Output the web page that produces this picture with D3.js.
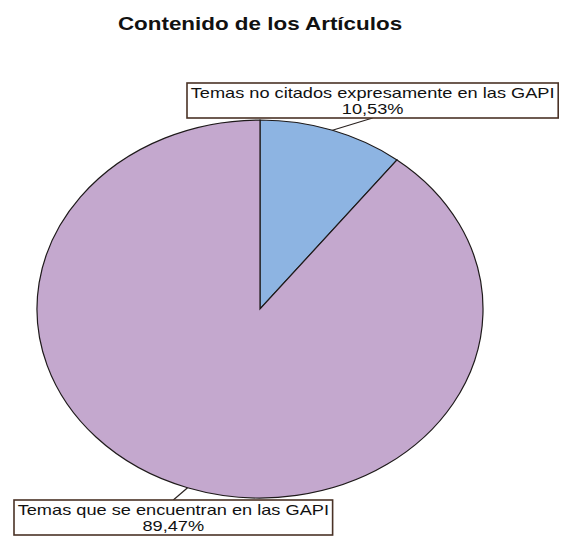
<!DOCTYPE html>
<html>
<head>
<meta charset="utf-8">
<script src="https://cdn.jsdelivr.net/npm/d3@7"></script>
<style>
  body { margin: 0; background: #ffffff; }
  svg { display: block; }
</style>
</head>
<body>
<svg id="chart" width="564" height="541"></svg>
<script>
// Chart data
const chartTitle = "Contenido de los Artículos";
const categories = ["Temas no citados expresamente en las GAPI", "Temas que se encuentran en las GAPI"];
const values = [10.53, 89.47];
const valueLabels = ["10,53%", "89,47%"];
const colors = ["#8DB4E2", "#C4A8CE"];

// Layout: the pie is drawn as a circle and stretched horizontally into an ellipse
const W = 564, H = 541;
const sx = 1.18;
const cx = 260, cy = 309, r = 189;
const font = "'Liberation Sans', Arial, sans-serif";

const svg = d3.select("#chart");

// Title
svg.append("g")
  .attr("transform", `translate(${cx},30) scale(${sx},1)`)
  .append("text")
  .attr("text-anchor", "middle")
  .attr("font-family", font)
  .attr("font-weight", "bold")
  .attr("font-size", 19)
  .attr("fill", "#111")
  .text(chartTitle);

// Pie
const pie = d3.pie().sort(null).value(d => d)(values);
const arc = d3.arc().innerRadius(0).outerRadius(r);

const pieG = svg.append("g")
  .attr("transform", `translate(${cx},${cy}) scale(${sx},1)`);

pieG.selectAll("path")
  .data(pie)
  .join("path")
  .attr("d", arc)
  .attr("fill", (d, i) => colors[i])
  .attr("stroke", "#1e1a1a")
  .attr("stroke-width", 1.2)
  .attr("vector-effect", "non-scaling-stroke");

// Data labels: boxed two-line text with a leader line to the slice
const boxPos = [
  { left: 187, top: 83, side: "bottom" },
  { left: 14, top: 500, side: "top" }
];
const boxH = 35;
const labelSize = 14;
const labelSx = 1.3;   // wide label lettering

pie.forEach((d, i) => {
  const p = boxPos[i];
  const lg = svg.append("g");

  // measure the stretched text width
  const tmp = svg.append("text")
    .attr("font-family", font).attr("font-size", labelSize)
    .text(categories[i]);
  const tw = tmp.node().getComputedTextLength() * labelSx;
  tmp.remove();

  const bw = tw + 7;
  const bcx = p.left + bw / 2;

  // leader line from the arc midpoint to the box
  const a = (d.startAngle + d.endAngle) / 2;
  const ax = cx + sx * r * Math.sin(a);
  const ay = cy - r * Math.cos(a);
  const ey = p.side === "bottom" ? p.top + boxH : p.top;
  lg.append("line")
    .attr("x1", ax).attr("y1", ay)
    .attr("x2", bcx).attr("y2", ey)
    .attr("stroke", "#2a2220").attr("stroke-width", 1.2);

  lg.append("rect")
    .attr("x", p.left).attr("y", p.top)
    .attr("width", bw).attr("height", boxH)
    .attr("fill", "#ffffff")
    .attr("stroke", "#4a3226").attr("stroke-width", 1.6);

  const t = lg.append("g")
    .attr("transform", `translate(${bcx},${p.top}) scale(${labelSx},1)`)
    .append("text")
    .attr("text-anchor", "middle")
    .attr("font-family", font).attr("font-size", labelSize)
    .attr("fill", "#111");
  t.append("tspan").attr("x", 0).attr("y", 15).text(categories[i]);
  t.append("tspan").attr("x", 0).attr("y", 31.5).text(valueLabels[i]);
});
</script>
</body>
</html>
